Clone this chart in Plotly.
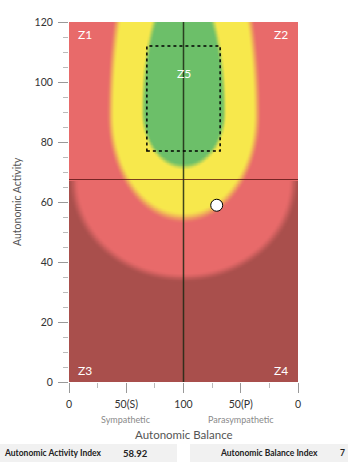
import numpy as np
import plotly.graph_objects as go

# ---- data ----
balance_ticks = [0, 50, 100, 150, 200]
balance_labels = ["0", "50(S)", "100", "50(P)", "0"]
activity_ticks = [0, 20, 40, 60, 80, 100, 120]

point_balance = [129]
point_activity = [58.92]
activity_index = "58.92"

center_balance = 100
activity_split = 67.5

z5_box = dict(x0=68, x1=132, y0=77, y1=112)

# zone shapes (center y, half width, upper half height, lower half height)
green_zone = dict(cy=90, a=35.5, b_up=44, b_low=18)
yellow_zone = dict(cy=89, a=64, b_up=75, b_low=34)
red_zone = dict(cy=67.5, a=96, b_up=32.5, b_low=32.5)

zone_labels = [("Z1", 6, 116), ("Z2", 193, 116), ("Z3", 6, 4), ("Z4", 193, 4), ("Z5", 100, 103)]

C_DARK = "#A94F4C"
C_RED = "#E86A6A"
C_YEL = "#F7E84C"
C_GRN = "#6CBF69"

# ---- background field ----
gx = np.arange(0, 200.01, 0.5)
gy = np.arange(0, 120.01, 0.5)
X, Y = np.meshgrid(gx, gy)


def rdist(z):
    b = np.where(Y >= z["cy"], z["b_up"], z["b_low"])
    return np.sqrt(((X - center_balance) / z["a"]) ** 2 + ((Y - z["cy"]) / b) ** 2)


def inside(r, w=0.06):
    t = np.clip((1 + w - r) / (2 * w), 0, 1)
    return t * t * (3 - 2 * t)


score = 1 + inside(rdist(yellow_zone)) + inside(rdist(green_zone), 0.07)
dark = (1 - inside(rdist(red_zone), 0.05)) * (Y < activity_split)
score = score - dark

fig = go.Figure()
fig.add_trace(go.Heatmap(
    x=gx, y=gy, z=score, zmin=0, zmax=3, zsmooth="best",
    colorscale=[[0, C_DARK], [1 / 3, C_RED], [2 / 3, C_YEL], [1, C_GRN]],
    showscale=False, hoverinfo="skip"))

fig.add_trace(go.Scatter(
    x=point_balance, y=point_activity, mode="markers",
    marker=dict(size=12, color="white", line=dict(color="black", width=1)),
    showlegend=False))

PW, PH = 229, 360


def px(v):
    return v / PW


def py(v):
    return v / PH


shapes = [
    dict(type="line", xref="x", yref="y", x0=center_balance, x1=center_balance, y0=0, y1=120,
         line=dict(color="rgba(30,40,20,0.85)", width=1.5)),
    dict(type="line", xref="x", yref="y", x0=0, x1=200, y0=activity_split, y1=activity_split,
         line=dict(color="rgba(90,20,20,0.8)", width=1.2)),
    dict(type="rect", xref="x", yref="y", **z5_box,
         line=dict(color="black", width=1.5, dash="dot")),
    dict(type="rect", xref="paper", yref="paper", x0=px(-69), x1=px(108),
         y0=py(-80), y1=py(-62), fillcolor="#f1f1f1", line=dict(width=0), layer="below"),
    dict(type="rect", xref="paper", yref="paper", x0=px(121), x1=px(290),
         y0=py(-80), y1=py(-62), fillcolor="#f1f1f1", line=dict(width=0), layer="below"),
]

ann = []
for t, x, y in zone_labels:
    xa = "left" if x < 50 else ("right" if x > 150 else "center")
    ann.append(dict(x=x, y=y, xref="x", yref="y", text=t, showarrow=False, xanchor=xa,
                    yanchor="middle", font=dict(color="white", size=12, family="Lato")))

ann += [
    dict(x=0.25, y=py(-37), xref="paper", yref="paper", text="Sympathetic", showarrow=False,
         xanchor="center", font=dict(size=9, color="#8a8a8a", family="Lato"), yanchor="middle"),
    dict(x=0.75, y=py(-37), xref="paper", yref="paper", text="Parasympathetic", showarrow=False,
         xanchor="center", font=dict(size=9, color="#8a8a8a", family="Lato"), yanchor="middle"),
    dict(x=0.5, y=py(-52), xref="paper", yref="paper", text="Autonomic Balance", showarrow=False,
         xanchor="center", font=dict(size=11.5, color="#555", family="Lato"), yanchor="middle"),
    dict(x=px(-52), y=0.5, xref="paper", yref="paper", text="Autonomic Activity", showarrow=False,
         textangle=-90, font=dict(size=10.5, color="#555", family="Lato"), xanchor="center"),
    dict(x=px(-67), y=py(-71), xref="paper", yref="paper", text="<b>Autonomic Activity Index</b>",
         showarrow=False, xanchor="left", yanchor="middle", font=dict(size=8.5, color="#222", family="Lato")),
    dict(x=px(66), y=py(-71), xref="paper", yref="paper", text="<b>" + activity_index + "</b>",
         showarrow=False, xanchor="center", yanchor="middle", font=dict(size=9.5, color="#222", family="Lato")),
    dict(x=px(200), y=py(-71), xref="paper", yref="paper", text="<b>Autonomic Balance Index</b>",
         showarrow=False, xanchor="center", yanchor="middle", font=dict(size=8.5, color="#222", family="Lato")),
    dict(x=px(278), y=py(-71), xref="paper", yref="paper", text="<b>7</b>",
         showarrow=False, xanchor="right", yanchor="middle", font=dict(size=8.5, color="#222", family="Lato")),
]

fig.update_layout(
    width=348, height=470, margin=dict(l=69, r=50, t=22, b=88),
    paper_bgcolor="white", plot_bgcolor="white",
    font=dict(family="Lato", size=10.5, color="#333"),
    shapes=shapes, annotations=ann, showlegend=False,
    xaxis=dict(range=[0, 200], tickvals=balance_ticks, ticktext=balance_labels,
               ticks="outside", ticklen=10, tickcolor="#999", showgrid=False, zeroline=False,
               showline=False, tickfont=dict(size=10.5, color="#333"), ticklabelstandoff=2,
               minor=dict(ticks="outside", ticklen=5, dtick=25, tickcolor="#bbb", showgrid=False)),
    yaxis=dict(range=[0, 120], tickvals=activity_ticks, ticks="outside", ticklen=10,
               tickcolor="#999", showgrid=False, zeroline=False, showline=False,
               tickfont=dict(size=10.5, color="#333"), ticklabelstandoff=3,
               minor=dict(ticks="outside", ticklen=5, dtick=5, tickcolor="#bbb", showgrid=False)),
)

fig.write_html("out.html")
